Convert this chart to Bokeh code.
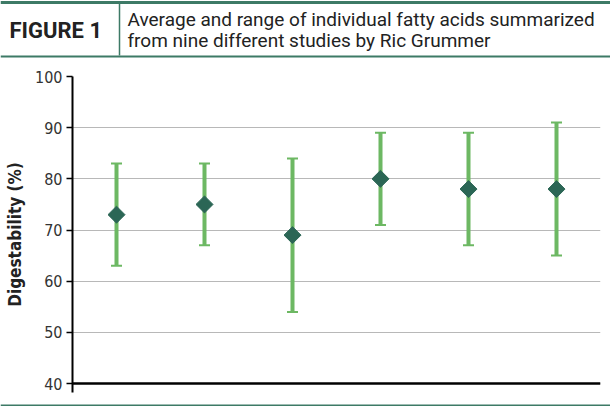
import math
from bokeh.plotting import figure
from bokeh.layouts import column
from bokeh.models import ColumnDataSource, Whisker, TeeHead, Span, FixedTicker, Label
from bokeh.embed import file_html
from bokeh.resources import INLINE

categories = ["A", "B", "C", "D", "E", "F"]
means = [73, 75, 69, 80, 78, 78]
lows = [63, 67, 54, 71, 67, 65]
highs = [83, 83, 84, 89, 89, 91]
y_ticks = [40, 50, 60, 70, 80, 90, 100]

title_bold = "FIGURE 1"
title_lines = ["Average and range of individual fatty acids summarized",
               "from nine different studies by Ric Grummer"]
y_label = "Digestability (%)"

GREEN_DARK = "#2b6655"
GREEN_LIGHT = "#6db863"
FRAME = "#3d7a66"
NARROW = "DejaVu Sans Condensed, Liberation Sans Narrow, Roboto, sans-serif"


def blank(height, yr):
    f = figure(width=610, height=height, x_range=(0, 610), y_range=yr,
               output_backend="svg", toolbar_location=None, frame_align=False,
               min_border=0, min_border_left=0, min_border_right=0,
               min_border_top=0, min_border_bottom=0)
    f.axis.visible = False
    f.grid.visible = False
    f.outline_line_color = None
    return f


# Header figure
h = blank(60, (60, 0))
h.segment(x0=[0], y0=[2], x1=[610], y1=[2], line_color=FRAME, line_width=3)
h.segment(x0=[0], y0=[56], x1=[610], y1=[56], line_color=FRAME, line_width=2)
h.segment(x0=[119], y0=[3], x1=[119], y1=[55], line_color=FRAME, line_width=1.5)
h.add_layout(Label(x=9, y=30, text=title_bold, text_font="Roboto", text_font_style="bold",
                   text_font_size="22px", text_color="#222222", text_baseline="middle"))
h.add_layout(Label(x=127, y=19, text=title_lines[0], text_font="Roboto",
                   text_font_size="19px", text_color="#222222", text_baseline="middle"))
h.add_layout(Label(x=127, y=40, text=title_lines[1], text_font="Roboto",
                   text_font_size="19px", text_color="#222222", text_baseline="middle"))

# Main figure (range extends a little below 40 so the y-axis line overshoots the baseline)
src = ColumnDataSource(dict(cat=categories, mean=means, low=lows, high=highs))
p = figure(width=610, height=336, x_range=categories, y_range=(38.25, 100),
           output_backend="svg", toolbar_location=None, frame_align=False,
           min_border_left=72, min_border_right=10, min_border_top=16, min_border_bottom=4)
p.outline_line_color = None
p.xgrid.visible = False
p.ygrid.grid_line_color = "#b8b8b8"
p.ygrid.grid_line_width = 1
p.xaxis.visible = False

p.yaxis.ticker = FixedTicker(ticks=y_ticks)
p.yaxis.axis_line_color = "black"
p.yaxis.axis_line_width = 2
p.yaxis.major_tick_line_color = "black"
p.yaxis.major_tick_line_width = 1.5
p.yaxis.major_tick_out = 6
p.yaxis.major_tick_in = 0
p.yaxis.minor_tick_line_color = None
p.yaxis.major_label_text_font = NARROW
p.yaxis.major_label_text_font_size = "16px"
p.yaxis.major_label_text_color = "#333333"
p.yaxis.major_label_standoff = 4
p.yaxis.axis_label = y_label
p.yaxis.axis_label_text_font = NARROW
p.yaxis.axis_label_text_font_style = "bold"
p.yaxis.axis_label_text_font_size = "17px"
p.yaxis.axis_label_text_color = "#222222"
p.yaxis.axis_label_standoff = 7

p.add_layout(Span(location=y_ticks[0], dimension="width", line_color="black", line_width=2.5))

w = Whisker(source=src, base="cat", upper="high", lower="low",
            line_color=GREEN_LIGHT, line_width=4,
            upper_head=TeeHead(size=11, line_color=GREEN_LIGHT, line_width=2),
            lower_head=TeeHead(size=11, line_color=GREEN_LIGHT, line_width=2))
p.add_layout(w)
p.scatter(x="cat", y="mean", source=src, marker="square", angle=math.pi / 4,
          size=12, fill_color=GREEN_DARK, line_color=GREEN_DARK)

# footer: bottom rule
f = blank(10, (10, 0))
f.segment(x0=[0], y0=[7.5], x1=[610], y1=[7.5], line_color=FRAME, line_width=3)

layout = column(h, p, f, spacing=0)
open("out.html", "w").write(file_html(layout, INLINE))
